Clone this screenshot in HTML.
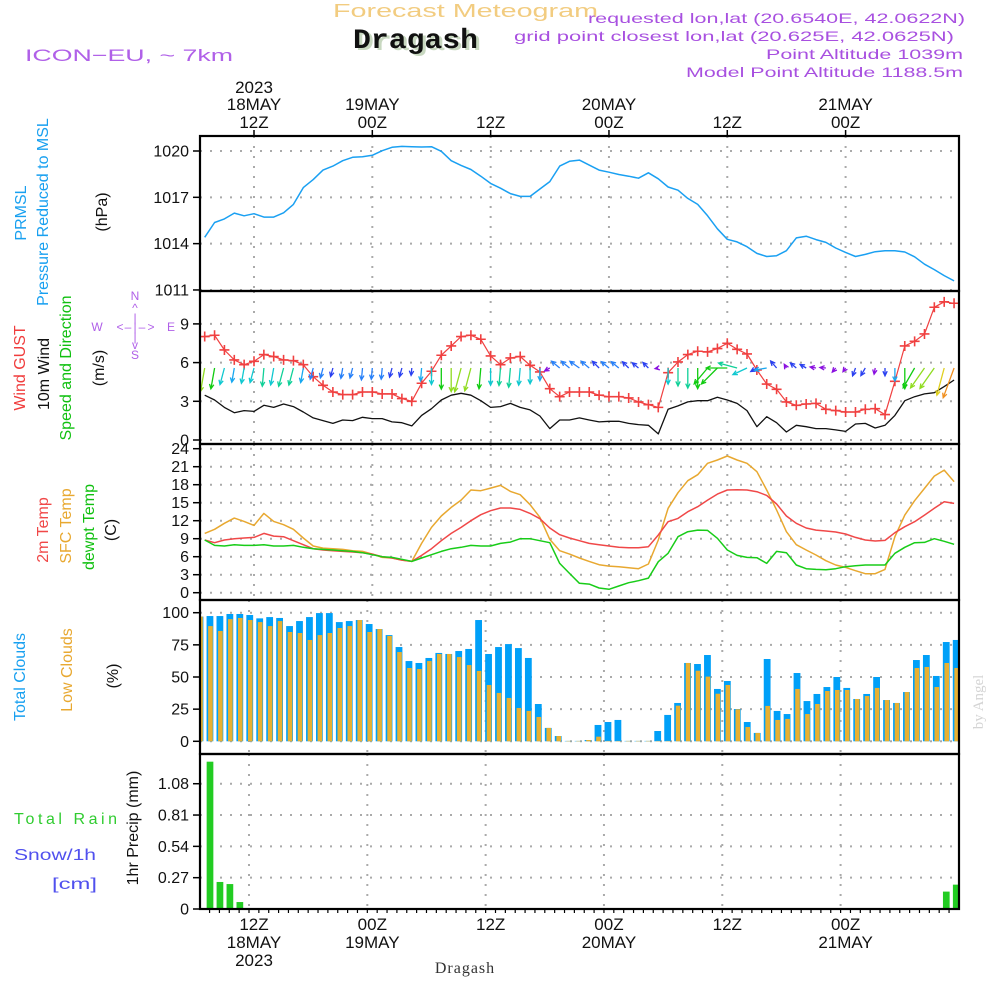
<!DOCTYPE html>
<html><head><meta charset="utf-8"><style>
html,body{margin:0;padding:0;background:#fff;width:1000px;height:1000px;overflow:hidden}
svg{display:block}
text{font-family:"Liberation Sans",sans-serif}
</style></head><body>
<svg id="chart" width="1000" height="1000" viewBox="0 0 1000 1000" xmlns="http://www.w3.org/2000/svg">
<defs>
<clipPath id="c1"><rect x="200" y="136" width="759" height="155"/></clipPath>
<clipPath id="c2"><rect x="200" y="291" width="759" height="153"/></clipPath>
<clipPath id="c3"><rect x="200" y="444" width="759" height="156"/></clipPath>
<clipPath id="c4"><rect x="200" y="600" width="759" height="154"/></clipPath>
<clipPath id="c5"><rect x="200" y="754" width="759" height="155"/></clipPath>
</defs>
<!-- header -->
<text x="333" y="17" font-size="18" fill="#f2cc80" textLength="265" lengthAdjust="spacingAndGlyphs">Forecast Meteogram</text>
<text x="356" y="50" font-size="28" font-weight="bold" fill="#c8d8c0" style="font-family:'Liberation Mono',monospace" textLength="125" lengthAdjust="spacingAndGlyphs">Dragash</text>
<text x="353" y="48" font-size="28" font-weight="bold" fill="#111" style="font-family:'Liberation Mono',monospace" textLength="125" lengthAdjust="spacingAndGlyphs">Dragash</text>
<text x="25" y="61" font-size="17" fill="#b060e8" textLength="208" lengthAdjust="spacingAndGlyphs">ICON−EU, ~ 7km</text>
<g fill="#a850e0" font-size="14">
<text x="588" y="23" textLength="377" lengthAdjust="spacingAndGlyphs">requested lon,lat (20.6540E, 42.0622N)</text>
<text x="514" y="41" textLength="440" lengthAdjust="spacingAndGlyphs">grid point closest lon,lat (20.625E, 42.0625N)</text>
<text x="766" y="59" textLength="197" lengthAdjust="spacingAndGlyphs">Point Altitude 1039m</text>
<text x="686" y="77" textLength="277" lengthAdjust="spacingAndGlyphs">Model Point Altitude 1188.5m</text>
</g>
<g id="grid"></g>
<g id="marks"></g>
<g id="frames"></g>
<g id="axes"></g>
<!-- left labels -->
<g font-size="16">
<text transform="translate(26,213) rotate(-90)" text-anchor="middle" fill="#18a0f0">PRMSL</text>
<text transform="translate(48,212) rotate(-90)" text-anchor="middle" fill="#18a0f0">Pressure Reduced to MSL</text>
<text transform="translate(107,212) rotate(-90)" text-anchor="middle" fill="#111">(hPa)</text>
<text transform="translate(25,368) rotate(-90)" text-anchor="middle" fill="#f03c3c">Wind GUST</text>
<text transform="translate(49,374) rotate(-90)" text-anchor="middle" fill="#111">10m Wind</text>
<text transform="translate(71,368) rotate(-90)" text-anchor="middle" fill="#10c010">Speed and Direction</text>
<text transform="translate(104,368) rotate(-90)" text-anchor="middle" fill="#111">(m/s)</text>
<text transform="translate(48,530) rotate(-90)" text-anchor="middle" fill="#f04848">2m Temp</text>
<text transform="translate(71,526) rotate(-90)" text-anchor="middle" fill="#e8a830">SFC Temp</text>
<text transform="translate(94,527) rotate(-90)" text-anchor="middle" fill="#10c010">dewpt Temp</text>
<text transform="translate(116,530) rotate(-90)" text-anchor="middle" fill="#111">(C)</text>
<text transform="translate(25,677) rotate(-90)" text-anchor="middle" fill="#18a0f0">Total Clouds</text>
<text transform="translate(72,670) rotate(-90)" text-anchor="middle" fill="#e8a830">Low Clouds</text>
<text transform="translate(118,676) rotate(-90)" text-anchor="middle" fill="#111">(%)</text>
<text transform="translate(138,828) rotate(-90)" text-anchor="middle" fill="#111">1hr Precip (mm)</text>
<text x="14" y="824" fill="#30cc30" textLength="103" lengthAdjust="spacing">Total  Rain</text>
<text x="14" y="860" fill="#5050ee" textLength="82" lengthAdjust="spacingAndGlyphs">Snow/1h</text>
<text x="52" y="889" fill="#5050ee" textLength="45" lengthAdjust="spacingAndGlyphs">[cm]</text>
</g>
<g fill="#b060e8" font-size="12" text-anchor="middle">
<text x="135" y="300">N</text><text x="135" y="312">^</text><text x="135" y="322">|</text>
<text x="120" y="331">&lt;</text><text x="128" y="331">–</text><text x="135" y="331">|</text><text x="142" y="331">–</text><text x="151" y="331">&gt;</text>
<text x="97" y="331">W</text><text x="171" y="331">E</text>
<text x="135" y="341">|</text><text x="135" y="349">v</text><text x="135" y="359">S</text>
</g>
<text transform="translate(983,702) rotate(-90)" text-anchor="middle" font-size="15" fill="#d4d4d4" style="font-family:'Liberation Serif',serif">by Angel</text>
<text x="465" y="973" text-anchor="middle" font-size="16" fill="#333" style="font-family:'Liberation Serif',serif" letter-spacing="1">Dragash</text>
</svg>
<script>
// ---------- data (hourly, line series start at hour 7 after 00Z 18 May) ----------
const lineStartHour = 7;
const pressureHpa = [1014.41,1015.37,1015.6,1015.98,1015.8,1015.94,1015.72,1015.72,1016.0,1016.54,1017.63,1018.15,1018.76,1019.02,1019.37,1019.59,1019.63,1019.72,1020.02,1020.24,1020.3,1020.28,1020.26,1020.28,1019.98,1019.37,1019.07,1018.8,1018.37,1017.9,1017.59,1017.24,1017.06,1017.06,1017.54,1018.02,1019.02,1019.33,1019.41,1019.09,1018.76,1018.63,1018.48,1018.37,1018.24,1018.59,1018.2,1017.67,1017.46,1016.93,1016.54,1015.8,1014.96,1014.28,1014.11,1013.8,1013.37,1013.17,1013.22,1013.54,1014.37,1014.48,1014.26,1014.08,1013.72,1013.43,1013.17,1013.3,1013.48,1013.54,1013.54,1013.46,1013.15,1012.67,1012.32,1011.93,1011.59];
const windGust = [8.02,8.12,6.98,6.21,5.84,6.10,6.62,6.47,6.21,6.15,5.84,4.91,4.24,3.72,3.52,3.52,3.72,3.72,3.57,3.57,3.21,3.0,4.40,5.33,6.57,7.29,8.02,8.12,7.81,6.52,5.84,6.36,6.47,5.79,5.28,3.98,3.36,3.72,3.72,3.72,3.47,3.36,3.36,3.26,2.95,2.74,2.53,5.22,6.05,6.62,6.88,6.83,7.09,7.5,7.03,6.67,5.43,4.34,3.93,2.95,2.69,2.79,2.84,2.38,2.28,2.17,2.17,2.38,2.43,1.97,4.55,7.29,7.65,8.22,10.29,10.71,10.6];
const wind10m = [3.47,3.10,2.53,2.12,2.28,2.22,2.69,2.53,2.79,2.59,2.17,1.71,1.5,1.29,1.55,1.5,1.76,1.66,1.66,1.40,1.34,1.09,1.91,2.43,3.10,3.47,3.62,3.47,3.05,2.53,2.59,2.84,2.53,2.33,1.86,0.88,1.55,1.55,1.71,1.55,1.40,1.45,1.45,1.29,1.19,1.14,0.47,2.38,2.64,2.95,3.05,3.05,3.31,3.10,2.84,2.28,1.03,1.81,1.34,0.62,1.14,1.03,0.88,0.88,0.78,0.67,1.24,1.29,0.93,1.14,1.91,3.05,3.36,3.57,3.67,4.14,4.65];
const windDirDeg = [10,10,15,10,10,15,5,10,15,15,10,15,15,15,10,15,5,5,5,15,15,5,5,0,0,0,15,15,5,0,5,5,5,0,0,60,130,130,125,130,135,130,130,135,130,135,80,0,0,0,0,40,45,90,105,65,60,80,140,150,130,120,100,95,40,35,20,30,10,0,0,0,30,35,35,15,20];
const tempSfc = [9.89,10.56,11.56,12.44,11.89,11.22,13.22,11.89,11.33,10.56,9.11,7.78,7.44,7.33,7.22,7.0,6.89,6.44,5.89,5.78,5.44,5.22,8.22,10.89,12.78,14.22,15.44,17.11,17.0,17.44,17.89,16.89,16.33,14.67,12.56,8.89,7.0,6.44,5.78,5.22,4.67,4.44,4.33,4.17,4.0,4.78,8.78,14.06,16.67,18.67,19.67,21.56,22.11,22.78,22.11,21.56,20.17,17.11,13.78,10.17,8.0,7.11,6.28,5.33,4.61,4.22,3.67,3.17,3.17,3.89,9.33,12.94,15.33,17.39,19.44,20.44,18.5];
const temp2m = [8.78,8.33,8.78,9.0,9.11,9.22,9.89,9.44,9.33,8.67,8.0,7.33,7.11,7.0,6.89,6.78,6.67,6.44,6.0,5.78,5.44,5.22,6.22,7.33,8.67,9.89,10.89,12.0,13.0,13.67,14.11,14.11,13.89,13.22,12.33,10.78,9.67,9.11,8.67,8.22,8.0,7.78,7.56,7.5,7.5,7.67,9.61,11.83,12.39,13.5,14.33,15.44,16.44,17.11,17.17,17.11,16.83,16.22,14.78,12.78,11.56,10.78,10.44,10.28,10.11,9.78,9.22,8.78,8.61,8.72,10.0,11.0,11.83,12.94,14.06,15.17,14.89];
const dewpoint = [8.78,7.89,7.78,8.0,7.89,7.89,8.0,7.78,7.78,7.89,7.56,7.33,7.22,7.11,7.0,6.89,6.67,6.33,6.0,5.89,5.56,5.22,5.78,6.33,6.89,7.33,7.56,7.89,7.78,7.78,8.22,8.44,9.0,9.0,8.67,8.33,4.89,3.22,1.56,1.44,0.78,0.56,1.11,1.67,2.0,2.44,5.17,6.56,9.33,10.17,10.44,10.39,9.06,7.11,6.22,5.89,5.83,4.89,6.89,6.67,4.61,4.0,3.89,3.83,4.0,4.33,4.5,4.61,4.61,4.61,6.56,7.56,8.33,8.39,9.0,8.56,8.06];
// bar series start at hour 6
const barStartHour = 6;
const totalClouds = [97,97.4,97.4,99,99,98.2,95.6,96.6,95.9,89.6,93.5,96.6,99.7,99.7,92.7,93.5,94.3,91.2,87.3,82.6,73.3,62.4,60.9,64.8,68.7,67.9,70.2,71.8,94.3,67.9,73.3,75.6,72.5,64.8,29,10.4,4.1,0.3,0.3,1,12.7,15,16.6,0.3,0.3,0.3,8,20.5,29.8,60.9,60.1,67.1,40.7,46.9,25.1,15,6.5,64,23.6,21.2,53.1,31.3,36.8,42.2,50,41.5,32.9,36.8,50,32.1,29.8,38.3,63.2,67.1,50.8,77.2,78.8];
const lowClouds = [97,89.6,85.8,95,95.9,94.3,92.7,89.6,93.5,85,84.2,78.8,82.6,84.2,88.1,89.6,94.3,85,87.3,81.9,69.4,57,56.2,62.4,67.9,67.9,65.5,59.3,54.7,43.8,37.6,33.7,25.9,23.6,18.9,10.4,4.1,0.3,0.3,1,3.6,0.3,0.3,0.3,0.3,0.3,0.3,0.3,27.7,60.9,54.9,50.3,37,43.8,24.9,11.1,6.5,27.5,16.6,17.4,40.7,21.2,29,39.1,39.9,39.9,32.9,35.2,41.5,32.1,29.8,38.3,57,57.8,42.2,60.9,57];
const precipMm = [0,1.27,0.233,0.215,0.06,
 0,0,0,0,0,0,0,0,0,0,
 0,0,0,0,0,0,0,0,0,0,
 0,0,0,0,0,0,0,0,0,0,
 0,0,0,0,0,0,0,0,0,0,
 0,0,0,0,0,0,0,0,0,0,
 0,0,0,0,0,0,0,0,0,0,
 0,0,0,0,0,0,0,0,0,0,
 0.15,0.21];
// tick labels
const pressureTicks = [1011,1014,1017,1020];
const windTicks = [0,3,6,9];
const tempTicks = [0,3,6,9,12,15,18,21,24];
const cloudTicks = [0,25,50,75,100];
const precipTicks = [0,0.27,0.54,0.81,1.08];
const timeTickHours = [12,24,36,48,60,72];
const topTimeLabels = [["2023","18MAY","12Z"],["","19MAY","00Z"],["","","12Z"],["","20MAY","00Z"],["","","12Z"],["","21MAY","00Z"]];
const bottomTimeLabels = [["12Z","18MAY","2023"],["00Z","19MAY",""],["12Z","",""],["00Z","20MAY",""],["12Z","",""],["00Z","21MAY",""]];

// ---------- scales ----------
const NS = "http://www.w3.org/2000/svg";
const X0 = 200, X1 = 959;
const xH = h => 254 + (h - 12) * 9.86;
const xBar = h => 200 + (h - 6) * 9.95;
const yP = p => 151 + (1020 - p) * 15.44;
const yW = v => 440 - 12.9 * v;
const yT = t => 592.7 - 6 * t;
const yC = c => 741.3 - 1.286 * c;
const yR = r => 909 - 116 * r;
const panels = [[136,291],[291,444],[444,600],[600,754],[754,909]];

function mk(tag, attrs, parent){
  const e = document.createElementNS(NS, tag);
  for (const k in attrs) e.setAttribute(k, attrs[k]);
  parent.appendChild(e);
  return e;
}
const grid = document.getElementById('grid');
const marks = document.getElementById('marks');
const frames = document.getElementById('frames');
const axes = document.getElementById('axes');

// ---------- grid ----------
function hGrid(vals, yf, name){
  vals.forEach(v => {
    const l = mk('line', {x1:X0, x2:X1, y1:yf(v), y2:yf(v), stroke:'#aaa', 'stroke-width':2, 'stroke-dasharray':'2,8'}, grid);
    
    
  });
}
hGrid(pressureTicks, yP, 'pressure');
hGrid(windTicks, yW, 'wind');
hGrid(tempTicks, yT, 'temp');
hGrid(cloudTicks, yC, 'cloud');
hGrid(precipTicks, yR, 'precip');
timeTickHours.forEach(h => {
  panels.forEach((p, i) => {
    const off = i >= 3 ? -5 : 0;
    const l = mk('line', {x1:xH(h)+off, x2:xH(h)+off, y1:p[0], y2:p[1], stroke:'#aaa', 'stroke-width':2, 'stroke-dasharray':'2,8'}, grid);
    
    
  });
});

// ---------- line helper ----------
function linePath(arr, yf, color, clip, name, width){
  const d = arr.map((v, i) => (i ? 'L' : 'M') + xH(lineStartHour + i).toFixed(1) + ',' + yf(v).toFixed(1)).join('');
  const p = mk('path', {d:d, fill:'none', stroke:color, 'stroke-width':width || 1.5, 'clip-path':'url(#' + clip + ')', 'stroke-linejoin':'round'}, marks);
  
  
  return p;
}

// pressure
linePath(pressureHpa, yP, '#1aa0f2', 'c1', 'pressure-line');

// wind gust with + markers
linePath(windGust, yW, '#f04040', 'c2', 'wind-gust-line', 1.2);
const gustG = mk('g', {stroke:'#f04040', 'stroke-width':1.6, 'clip-path':'url(#c2)'}, marks);


windGust.forEach((v, i) => {
  const x = xH(lineStartHour + i), y = yW(v);
  const m = mk('path', {d:`M${x-5},${y}h10M${x},${y-5}v10`}, gustG);
  
  
});
// wind 10m
linePath(wind10m, yW, '#111', 'c2', 'wind-10m-line', 1.3);

// wind arrows
function speedColor(s){
  if (s < 1.0) return '#8a10e0';
  if (s < 1.45) return '#2a40f0';
  if (s < 1.8) return '#2880f8';
  if (s < 2.2) return '#18a8f0';
  if (s < 2.55) return '#10c8d0';
  if (s < 3.0) return '#10d098';
  if (s < 3.4) return '#10cc10';
  if (s < 3.8) return '#90dc20';
  if (s < 4.3) return '#e0d020';
  return '#f09020';
}
const arrowG = mk('g', {'clip-path':'url(#c2)', fill:'none', 'stroke-width':1.3}, marks);


windDirDeg.forEach((dir, i) => {
  const s = wind10m[i];
  const x = xH(lineStartHour + i), y = 368;
  const L = 6.8 * s;
  const a = (dir + 180) * Math.PI / 180;
  const dx = Math.sin(a), dy = -Math.cos(a);
  const x2 = x + dx * L, y2 = y + dy * L;
  const hs = 5, ang = 0.45;
  const bx = -dx, by = -dy;
  const h1x = x2 + hs * (bx * Math.cos(ang) - by * Math.sin(ang)), h1y = y2 + hs * (bx * Math.sin(ang) + by * Math.cos(ang));
  const h2x = x2 + hs * (bx * Math.cos(-ang) - by * Math.sin(-ang)), h2y = y2 + hs * (bx * Math.sin(-ang) + by * Math.cos(-ang));
  const p = mk('path', {d:`M${x.toFixed(1)},${y}L${x2.toFixed(1)},${y2.toFixed(1)}M${h1x.toFixed(1)},${h1y.toFixed(1)}L${x2.toFixed(1)},${y2.toFixed(1)}L${h2x.toFixed(1)},${h2y.toFixed(1)}`, stroke:speedColor(s)}, arrowG);
  
  
});

// temperatures
linePath(tempSfc, yT, '#e8a830', 'c3', 'sfc-temp-line');
linePath(temp2m, yT, '#f04848', 'c3', 't2m-line');
linePath(dewpoint, yT, '#18cc18', 'c3', 'dewpoint-line');

// clouds
const cloudG = mk('g', {'clip-path':'url(#c4)'}, marks);


totalClouds.forEach((c, i) => {
  const cx = xBar(barStartHour + i);
  const b = mk('rect', {x:cx-3.4, y:yC(c), width:6.8, height:yC(0)-yC(c), fill:'#00a0f8'}, cloudG);
  
  
  const lc = lowClouds[i];
  const o = mk('rect', {x:cx-1.8, y:yC(lc), width:4.6, height:yC(0)-yC(lc), fill:'#e8b030'}, cloudG);
  
  
});

// precipitation
const rainG = mk('g', {'clip-path':'url(#c5)'}, marks);


precipMm.forEach((r, i) => {
  if (r <= 0) return;
  const cx = xBar(barStartHour + i);
  const b = mk('rect', {x:cx-3.3, y:yR(r), width:6.7, height:yR(0)-yR(r), fill:'#22cc22'}, rainG);
  
  
});

// ---------- frames ----------
panels.forEach((p, i) => {
  const r = mk('rect', {x:X0, y:p[0], width:X1-X0, height:p[1]-p[0], fill:'none', stroke:'#000', 'stroke-width':2.2}, frames);
  
  
});

// ---------- y axes ----------
function yAxis(vals, yf, fmt, name){
  vals.forEach(v => {
    const y = yf(v);
    const t = mk('line', {x1:193, x2:200, y1:y, y2:y, stroke:'#000', 'stroke-width':1.5}, axes);
    
    
    const l = mk('text', {x:189, y:y+5.5, 'text-anchor':'end', 'font-size':16, fill:'#111'}, axes);
    l.textContent = fmt(v);
    
    
  });
}
yAxis(pressureTicks, yP, v => String(v), 'pressure');
yAxis(windTicks, yW, v => String(v), 'wind');
yAxis(tempTicks, yT, v => String(v), 'temp');
yAxis(cloudTicks, yC, v => String(v), 'cloud');
yAxis(precipTicks, yR, v => v === 0 ? '0' : v.toFixed(2), 'precip');

// ---------- time axes ----------
timeTickHours.forEach((h, i) => {
  const x = xH(h);
  const t = mk('line', {x1:x, x2:x, y1:130, y2:136, stroke:'#000', 'stroke-width':1.5}, axes);
  
  
  const ys = [93, 110, 128];
  topTimeLabels[i].forEach((s, k) => {
    if (!s) return;
    const l = mk('text', {x:x, y:ys[k], 'text-anchor':'middle', 'font-size':17, fill:'#111'}, axes);
    l.textContent = s;
    
    
  });
  const yb = [930, 948, 966];
  bottomTimeLabels[i].forEach((s, k) => {
    if (!s) return;
    const l = mk('text', {x:x, y:yb[k], 'text-anchor':'middle', 'font-size':17, fill:'#111'}, axes);
    l.textContent = s;
    
    
  });
});
for (let h = 6; h <= 83; h++) {
  const x = xH(h) - 5;
  if (x < X0 || x > X1) continue;
  const t = mk('line', {x1:x, x2:x, y1:909, y2:913, stroke:'#000', 'stroke-width':1.2}, axes);
  
  
}
</script>
</body></html>
